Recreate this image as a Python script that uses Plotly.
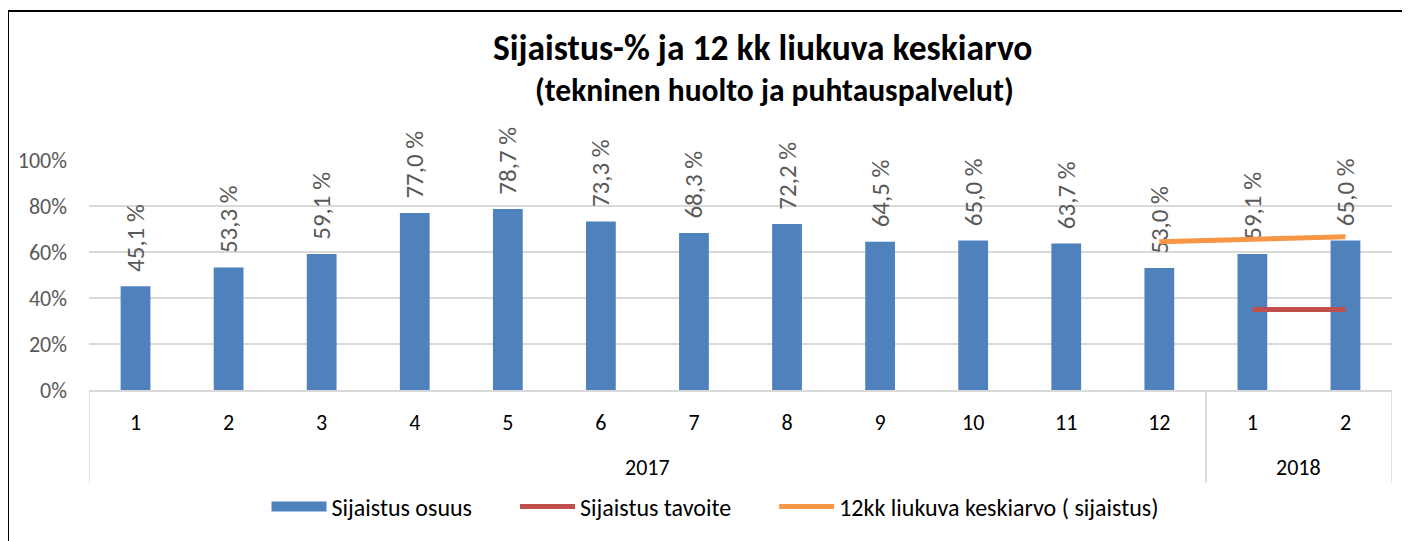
import plotly.graph_objects as go

years = ["2017"] * 12 + ["2018"] * 2
months = [str(m) for m in range(1, 13)] + ["1", "2"]
osuus = [45.1, 53.3, 59.1, 77.0, 78.7, 73.3, 68.3, 72.2, 64.5, 65.0, 63.7, 53.0, 59.1, 65.0]

tavoite_idx = [12, 13]
tavoite = [35.0, 35.0]

avg_idx = [11, 12, 13]
avg = [64.5, 65.6, 66.6]

yticks = [0, 20, 40, 60, 80, 100]
yticktext = [f"{v}%" for v in yticks]

FONT = "Carlito, Calibri, Lato, sans-serif"
NB = "\u00a0"

labels = [NB * 2 + f"{v:.1f}".replace(".", ",") + " %" for v in osuus]
xidx = list(range(len(osuus)))

fig = go.Figure()
fig.add_trace(go.Bar(
    x=xidx, y=osuus, name="Sijaistus osuus", legendgroup="osuus", showlegend=False,
    marker=dict(color="#4F81BD", line=dict(width=0)),
    text=labels, textposition="outside", textangle=-90,
    textfont=dict(color="#595959", size=25, family=FONT),
    cliponaxis=False, constraintext="none",
))
# legend entry for the bars (wide rectangle like the original)
fig.add_trace(go.Scatter(
    x=[None], y=[None], name="Sijaistus osuus" + NB * 7, legendgroup="osuus",
    mode="lines", line=dict(color="#4F81BD", width=13),
))
fig.add_trace(go.Scatter(
    x=tavoite_idx, y=tavoite, name="Sijaistus tavoite" + NB * 7,
    mode="lines", line=dict(color="#C0504D", width=5),
))
fig.add_trace(go.Scatter(
    x=avg_idx, y=avg, name="12kk liukuva keskiarvo ( sijaistus)",
    mode="lines", line=dict(color="#F79646", width=5),
))

# page has 8px body margin; work in page pixels and convert
OFF = 8
W, H = 1402, 533
plot_l, plot_r, plot_t, plot_b = 89, 1392, 160, 390
L = plot_l - OFF
R = W - (plot_r - OFF)
T = plot_t - OFF
B = H - (plot_b - OFF)
pw, ph = plot_r - plot_l, plot_b - plot_t

def px_x(p):
    return (p - plot_l) / pw

def px_y(p):
    return (plot_b - p) / ph

# year groups
groups = []
for i, y in enumerate(years):
    if not groups or groups[-1][0] != y:
        groups.append([y, i, i])
    else:
        groups[-1][2] = i

annotations = [
    dict(text="<b>Sijaistus-% ja 12 kk liukuva keskiarvo</b>", xref="paper", yref="paper",
         x=px_x(762), y=px_y(48), xanchor="center", yanchor="middle", showarrow=False,
         font=dict(size=35.5, color="#000000", family=FONT)),
    dict(text="<b>(tekninen huolto ja puhtauspalvelut)</b>", xref="paper", yref="paper",
         x=px_x(774), y=px_y(90), xanchor="center", yanchor="middle", showarrow=False,
         font=dict(size=31.5, color="#000000", family=FONT)),
]
shapes = [
    dict(type="rect", xref="paper", yref="paper", x0=px_x(8), x1=px_x(1440),
         y0=px_y(600), y1=px_y(11), line=dict(color="#000000", width=2),
         fillcolor="rgba(0,0,0,0)", layer="above"),
]
for name, i0, i1 in groups:
    annotations.append(dict(text=name, xref="x", yref="paper", x=(i0 + i1) / 2, y=px_y(467),
                            xanchor="center", yanchor="middle", showarrow=False,
                            font=dict(size=22, color="#000000", family=FONT)))
    for xb in (i0 - 0.5, i1 + 0.5):
        shapes.append(dict(type="line", xref="x", yref="paper", x0=xb, x1=xb,
                           y0=0, y1=px_y(483), line=dict(color="#D9D9D9", width=1.5)))

fig.update_layout(
    width=W, height=H,
    margin=dict(l=L, r=R, t=T, b=B, autoexpand=False),
    paper_bgcolor="white", plot_bgcolor="white",
    font=dict(family=FONT, color="#000000"),
    bargap=0.68,
    showlegend=True,
    legend=dict(orientation="h", x=px_x(715), xanchor="center", y=px_y(507), yanchor="middle",
                font=dict(size=24, color="#000000", family=FONT), itemwidth=55),
    xaxis=dict(range=[-0.5, len(osuus) - 0.5], tickvals=xidx, ticktext=months,
               showline=True, linecolor="#D9D9D9", linewidth=1.5, ticks="", showgrid=False,
               zeroline=False, tickfont=dict(size=22, color="#000000", family=FONT),
               ticklabelstandoff=12, automargin=False),
    yaxis=dict(range=[0, 100], tickvals=yticks, ticktext=yticktext, showgrid=True,
               gridcolor="#D9D9D9", gridwidth=1.5, zeroline=False, showline=False,
               tickfont=dict(size=22, color="#595959", family=FONT), ticklabelstandoff=21,
               automargin=False),
    annotations=annotations,
    shapes=shapes,
)

fig.write_html("out.html")
